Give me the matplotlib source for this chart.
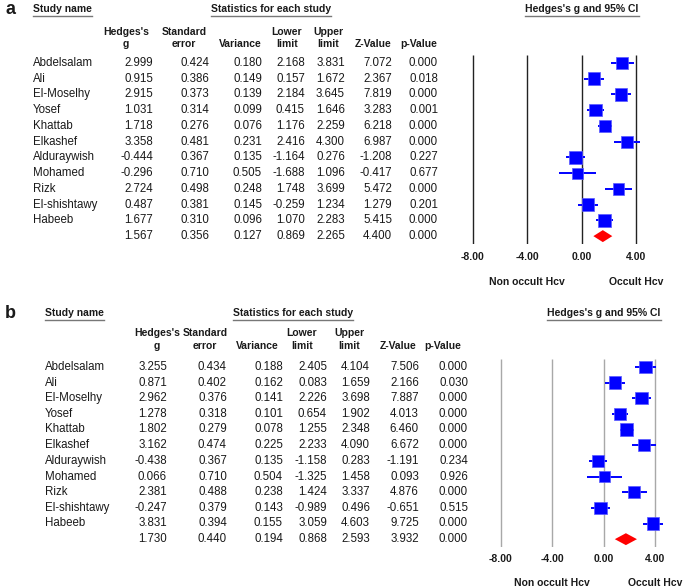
import numpy as np
import matplotlib
matplotlib.use("Agg")
import matplotlib.pyplot as plt
from matplotlib.transforms import blended_transform_factory
from matplotlib.lines import Line2D

plt.rcParams['font.family'] = ['Liberation Sans', 'DejaVu Sans']

W, H = 685, 588

# ---- data ----
studies = ['Abdelsalam', 'Ali', 'El-Moselhy', 'Yosef', 'Khattab', 'Elkashef',
           'Alduraywish', 'Mohamed', 'Rizk', 'El-shishtawy', 'Habeeb', '']

g_a = [2.999, 0.915, 2.915, 1.031, 1.718, 3.358, -0.444, -0.296, 2.724, 0.487, 1.677, 1.567]
se_a = [0.424, 0.386, 0.373, 0.314, 0.276, 0.481, 0.367, 0.710, 0.498, 0.381, 0.310, 0.356]
var_a = [0.180, 0.149, 0.139, 0.099, 0.076, 0.231, 0.135, 0.505, 0.248, 0.145, 0.096, 0.127]
lo_a = [2.168, 0.157, 2.184, 0.415, 1.176, 2.416, -1.164, -1.688, 1.748, -0.259, 1.070, 0.869]
hi_a = [3.831, 1.672, 3.645, 1.646, 2.259, 4.300, 0.276, 1.096, 3.699, 1.234, 2.283, 2.265]
z_a = [7.072, 2.367, 7.819, 3.283, 6.218, 6.987, -1.208, -0.417, 5.472, 1.279, 5.415, 4.400]
p_a = [0.000, 0.018, 0.000, 0.001, 0.000, 0.000, 0.227, 0.677, 0.000, 0.201, 0.000, 0.000]

g_b = [3.255, 0.871, 2.962, 1.278, 1.802, 3.162, -0.438, 0.066, 2.381, -0.247, 3.831, 1.730]
se_b = [0.434, 0.402, 0.376, 0.318, 0.279, 0.474, 0.367, 0.710, 0.488, 0.379, 0.394, 0.440]
var_b = [0.188, 0.162, 0.141, 0.101, 0.078, 0.225, 0.135, 0.504, 0.238, 0.143, 0.155, 0.194]
lo_b = [2.405, 0.083, 2.226, 0.654, 1.255, 2.233, -1.158, -1.325, 1.424, -0.989, 3.059, 0.868]
hi_b = [4.104, 1.659, 3.698, 1.902, 2.348, 4.090, 0.283, 1.458, 3.337, 0.496, 4.603, 2.593]
z_b = [7.506, 2.166, 7.887, 4.013, 6.460, 6.672, -1.191, 0.093, 4.876, -0.651, 9.725, 3.932]
p_b = [0.000, 0.030, 0.000, 0.000, 0.000, 0.000, 0.234, 0.926, 0.000, 0.515, 0.000, 0.000]

ticks = [-8, -4, 0, 4]
tick_labels = ['-8.00', '-4.00', '0.00', '4.00']
side_labels = ['Non occult Hcv', 'Occult Hcv']
headers = [('Hedges\'s', 'g'), ('Standard', 'error'), ('', 'Variance'),
           ('Lower', 'limit'), ('Upper', 'limit'), ('', 'Z-Value'), ('', 'p-Value')]

fig = plt.figure(figsize=(W / 100, H / 100), dpi=100)
FS = 8.3     # body text
FB = 7.5     # bold header text
TXT = '#1a1a1a'


def ftext(x, y, s, **kw):
    kw.setdefault('fontsize', FB)
    kw.setdefault('color', TXT)
    return fig.text(x / W, 1 - y / H, s, **kw)


def re_weights(y, v):
    # random effects weights (DerSimonian-Laird) for the box sizes
    y, v = np.array(y), np.array(v)
    w = 1 / v
    ybar = np.sum(w * y) / np.sum(w)
    q = np.sum(w * (y - ybar) ** 2)
    c = np.sum(w) - np.sum(w ** 2) / np.sum(w)
    tau2 = max(0, (q - (len(y) - 1)) / c)
    return 1 / (v + tau2)


def panel(letter, top, name_x, col_right, head_x, head_y, title_x, ax_px, ax_y,
          g, se, var, lo, hi, z, p, line_color, tick_y, side_y):
    ftext(5, top, letter, fontsize=13, fontweight='bold', va='center')
    titles = [ftext(name_x, top, 'Study name', fontweight='bold', va='center'),
              ftext(title_x[0], top, 'Statistics for each study', fontweight='bold',
                    va='center', ha='center'),
              ftext(title_x[1], top, "Hedges's g and 95% CI", fontweight='bold',
                    va='center', ha='center')]
    for (l1, l2), hx in zip(headers, head_x):
        if l1:
            ftext(hx, head_y[0], l1, fontweight='bold', va='center', ha='center')
        ftext(hx, head_y[1], l2, fontweight='bold', va='center', ha='center')

    # forest plot axes, x from -10 to 6
    x0, x1 = ax_px
    y0, y1 = ax_y
    ax = fig.add_axes([x0 / W, 1 - y1 / H, (x1 - x0) / W, (y1 - y0) / H])
    ax.set_xlim(-10, 6)
    ax.set_ylim(len(studies) - 0.5, -0.5)
    ax.axis('off')
    ax.vlines(ticks, -0.5, len(studies) - 0.5, color=line_color, lw=1)

    n = len(studies) - 1
    rows = np.arange(n)
    w = re_weights(g[:n], var[:n])
    side = 12.7 * np.sqrt(w / w.max())
    ax.hlines(rows, lo[:n], hi[:n], color='#0000ff', lw=1.4, zorder=2)
    ax.scatter(g[:n], rows, marker='s', s=(side * 0.72) ** 2, color='#0000ff',
               edgecolor='#5a5aff', lw=0.5, zorder=3)
    ax.fill([lo[n], g[n], hi[n], g[n]], [n, n - 0.38, n, n + 0.38],
            color='#ff0000', lw=0, zorder=3)

    tr = blended_transform_factory(fig.transFigure, ax.transData)
    for i in range(len(studies)):
        fig.text(name_x / W, i, studies[i], transform=tr, fontsize=FS, va='center',
                 color=TXT)
        for cx, vals in zip(col_right, [g, se, var, lo, hi, z, p]):
            fig.text(cx / W, i, f'{vals[i]:.3f}', transform=tr, fontsize=FS,
                     va='center', ha='right', color=TXT)

    trx = blended_transform_factory(ax.transData, fig.transFigure)
    for t, lab in zip(ticks, tick_labels):
        fig.text(t, 1 - tick_y / H, lab, transform=trx, fontsize=FB,
                 fontweight='bold', ha='center', va='center', color=TXT)
    for t, lab in zip([-4, 4], side_labels):
        fig.text(t, 1 - side_y / H, lab, transform=trx, fontsize=FB,
                 fontweight='bold', ha='center', va='center', color=TXT)
    return titles


ta = panel('a', 9, 33, [153, 209, 262, 305, 345, 392, 438],
           [126, 184, 240, 287, 328, 373, 419], (32, 44), (271, 582),
           (445.8, 663.0), (55, 244),
           g_a, se_a, var_a, lo_a, hi_a, z_a, p_a, '#222222', 257, 282)
tb = panel('b', 313, 45, [167, 227, 283, 327, 370, 419, 468],
           [157, 205, 257, 302, 349, 398, 443], (333, 346), (293, 604),
           (475.3, 680.7), (359, 547),
           g_b, se_b, var_b, lo_b, hi_b, z_b, p_b, '#a8a8a8', 559, 583)

# underline the section titles
fig.canvas.draw()
renderer = fig.canvas.get_renderer()
for t in ta + tb:
    bb = t.get_window_extent(renderer)
    yy = bb.y0 - 1.5
    fig.add_artist(Line2D([bb.x0, bb.x1], [yy, yy], color='#777777', lw=1,
                          transform=None))

fig.savefig('out.png', dpi=100)
